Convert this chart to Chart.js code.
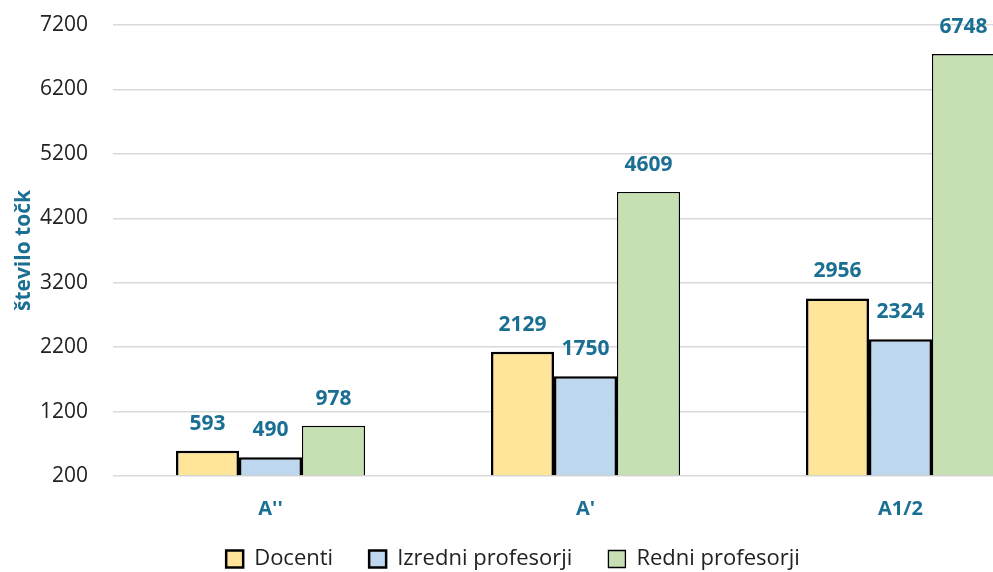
<!DOCTYPE html>
<html>
<head>
<meta charset="utf-8">
<script src="https://cdn.jsdelivr.net/npm/chart.js@4"></script>
<style>
  html, body { margin: 0; padding: 0; background: #fff; overflow: hidden; }
  #wrap { position: relative; width: 1058px; height: 572px; }
</style>
</head>
<body>
<div id="wrap"><canvas id="myChart"></canvas></div>
<script>
// Data
const categories = ["A''", "A'", "A1/2"];
const docenti = [593, 2129, 2956];
const izredni = [490, 1750, 2324];
const redni = [978, 4609, 6748];
const seriesNames = ["Docenti", "Izredni profesorji", "Redni profesorji"];
const yTicks = { min: 200, max: 7200, step: 1000 };

const teal = '#1a6f93';
const legendPad = 36;

// draws the value labels above each bar
const valueLabels = {
    id: 'valueLabels',
    afterDatasetsDraw(chart) {
        const ctx = chart.ctx;
        ctx.save();
        ctx.font = 'bold 21px "Open Sans"';
        ctx.fillStyle = teal;
        ctx.textAlign = 'center';
        ctx.textBaseline = 'middle';
        chart.data.datasets.forEach((ds, i) => {
            chart.getDatasetMeta(i).data.forEach((bar, j) => {
                ctx.fillText(ds.data[j], bar.x, bar.y - 27);
            });
        });
        ctx.restore();
    }
};

// soft shadow behind the bars
const barShadow = {
    id: 'barShadow',
    beforeDatasetsDraw(chart) {
        const ctx = chart.ctx;
        ctx.save();
        ctx.shadowColor = 'rgba(0,0,0,0.22)';
        ctx.shadowBlur = 6;
        ctx.shadowOffsetX = 3;
        ctx.shadowOffsetY = 2;
    },
    afterDatasetsDraw(chart) {
        chart.ctx.restore();
    }
};

// the legend in the reference sits left of the (cropped) plot centre, near the bottom
const legendPlace = {
    id: 'legendPlace',
    afterLayout(chart) {
        const lg = chart.legend;
        const h = lg.bottom - lg.top;
        lg.left -= 16;
        lg.right -= 16;
        lg.top = 559 - legendPad - 11;
        lg.bottom = lg.top + h;
    }
};

const ctx = document.getElementById('myChart');
new Chart(ctx, {
    type: 'bar',
    data: {
        labels: categories,
        datasets: [{
            label: seriesNames[0],
            data: docenti,
            backgroundColor: '#fee599',
            borderColor: '#000',
            borderWidth: 2.5,
            base: yTicks.min
        }, {
            label: seriesNames[1],
            data: izredni,
            backgroundColor: '#bdd7ee',
            borderColor: '#000',
            borderWidth: 2.5,
            base: yTicks.min
        }, {
            label: seriesNames[2],
            data: redni,
            backgroundColor: '#c6e0b4',
            borderColor: '#000',
            borderWidth: 1.3,
            base: yTicks.min
        }]
    },
    options: {
        animation: false,
        responsive: true,
        maintainAspectRatio: false,
        layout: { padding: { top: 25, left: 0, right: 0, bottom: -38 } },
        datasets: { bar: { categoryPercentage: 0.6, barPercentage: 1.0 } },
        scales: {
            x: {
                grid: { display: false, drawTicks: false },
                border: { display: false },
                ticks: {
                    color: teal,
                    font: { family: 'Open Sans', size: 20, weight: 'bold', lineHeight: 1.0 },
                    padding: 23
                }
            },
            y: {
                min: yTicks.min,
                max: yTicks.max,
                afterFit(scale) {
                    scale.width = 113;
                    scale.paddingTop = 12;
                    scale.paddingBottom = 12;
                },
                ticks: {
                    stepSize: yTicks.step,
                    color: '#222',
                    font: { family: 'Open Sans', size: 21 },
                    padding: 25,
                    callback: v => String(v)
                },
                grid: { color: '#d9d9d9', lineWidth: 1.5, drawTicks: false },
                border: { display: false },
                title: {
                    display: true,
                    text: 'število točk',
                    color: teal,
                    font: { family: 'Open Sans', size: 21, weight: 'bold' },
                    padding: { top: 11, bottom: 0 }
                }
            }
        },
        plugins: {
            legend: {
                position: 'bottom',
                labels: {
                    color: '#222',
                    font: { family: 'Open Sans', size: 22 },
                    boxWidth: 17,
                    boxHeight: 17,
                    padding: legendPad
                }
            },
            tooltip: { enabled: false }
        }
    },
    plugins: [barShadow, valueLabels, legendPlace]
});
</script>
</body>
</html>
